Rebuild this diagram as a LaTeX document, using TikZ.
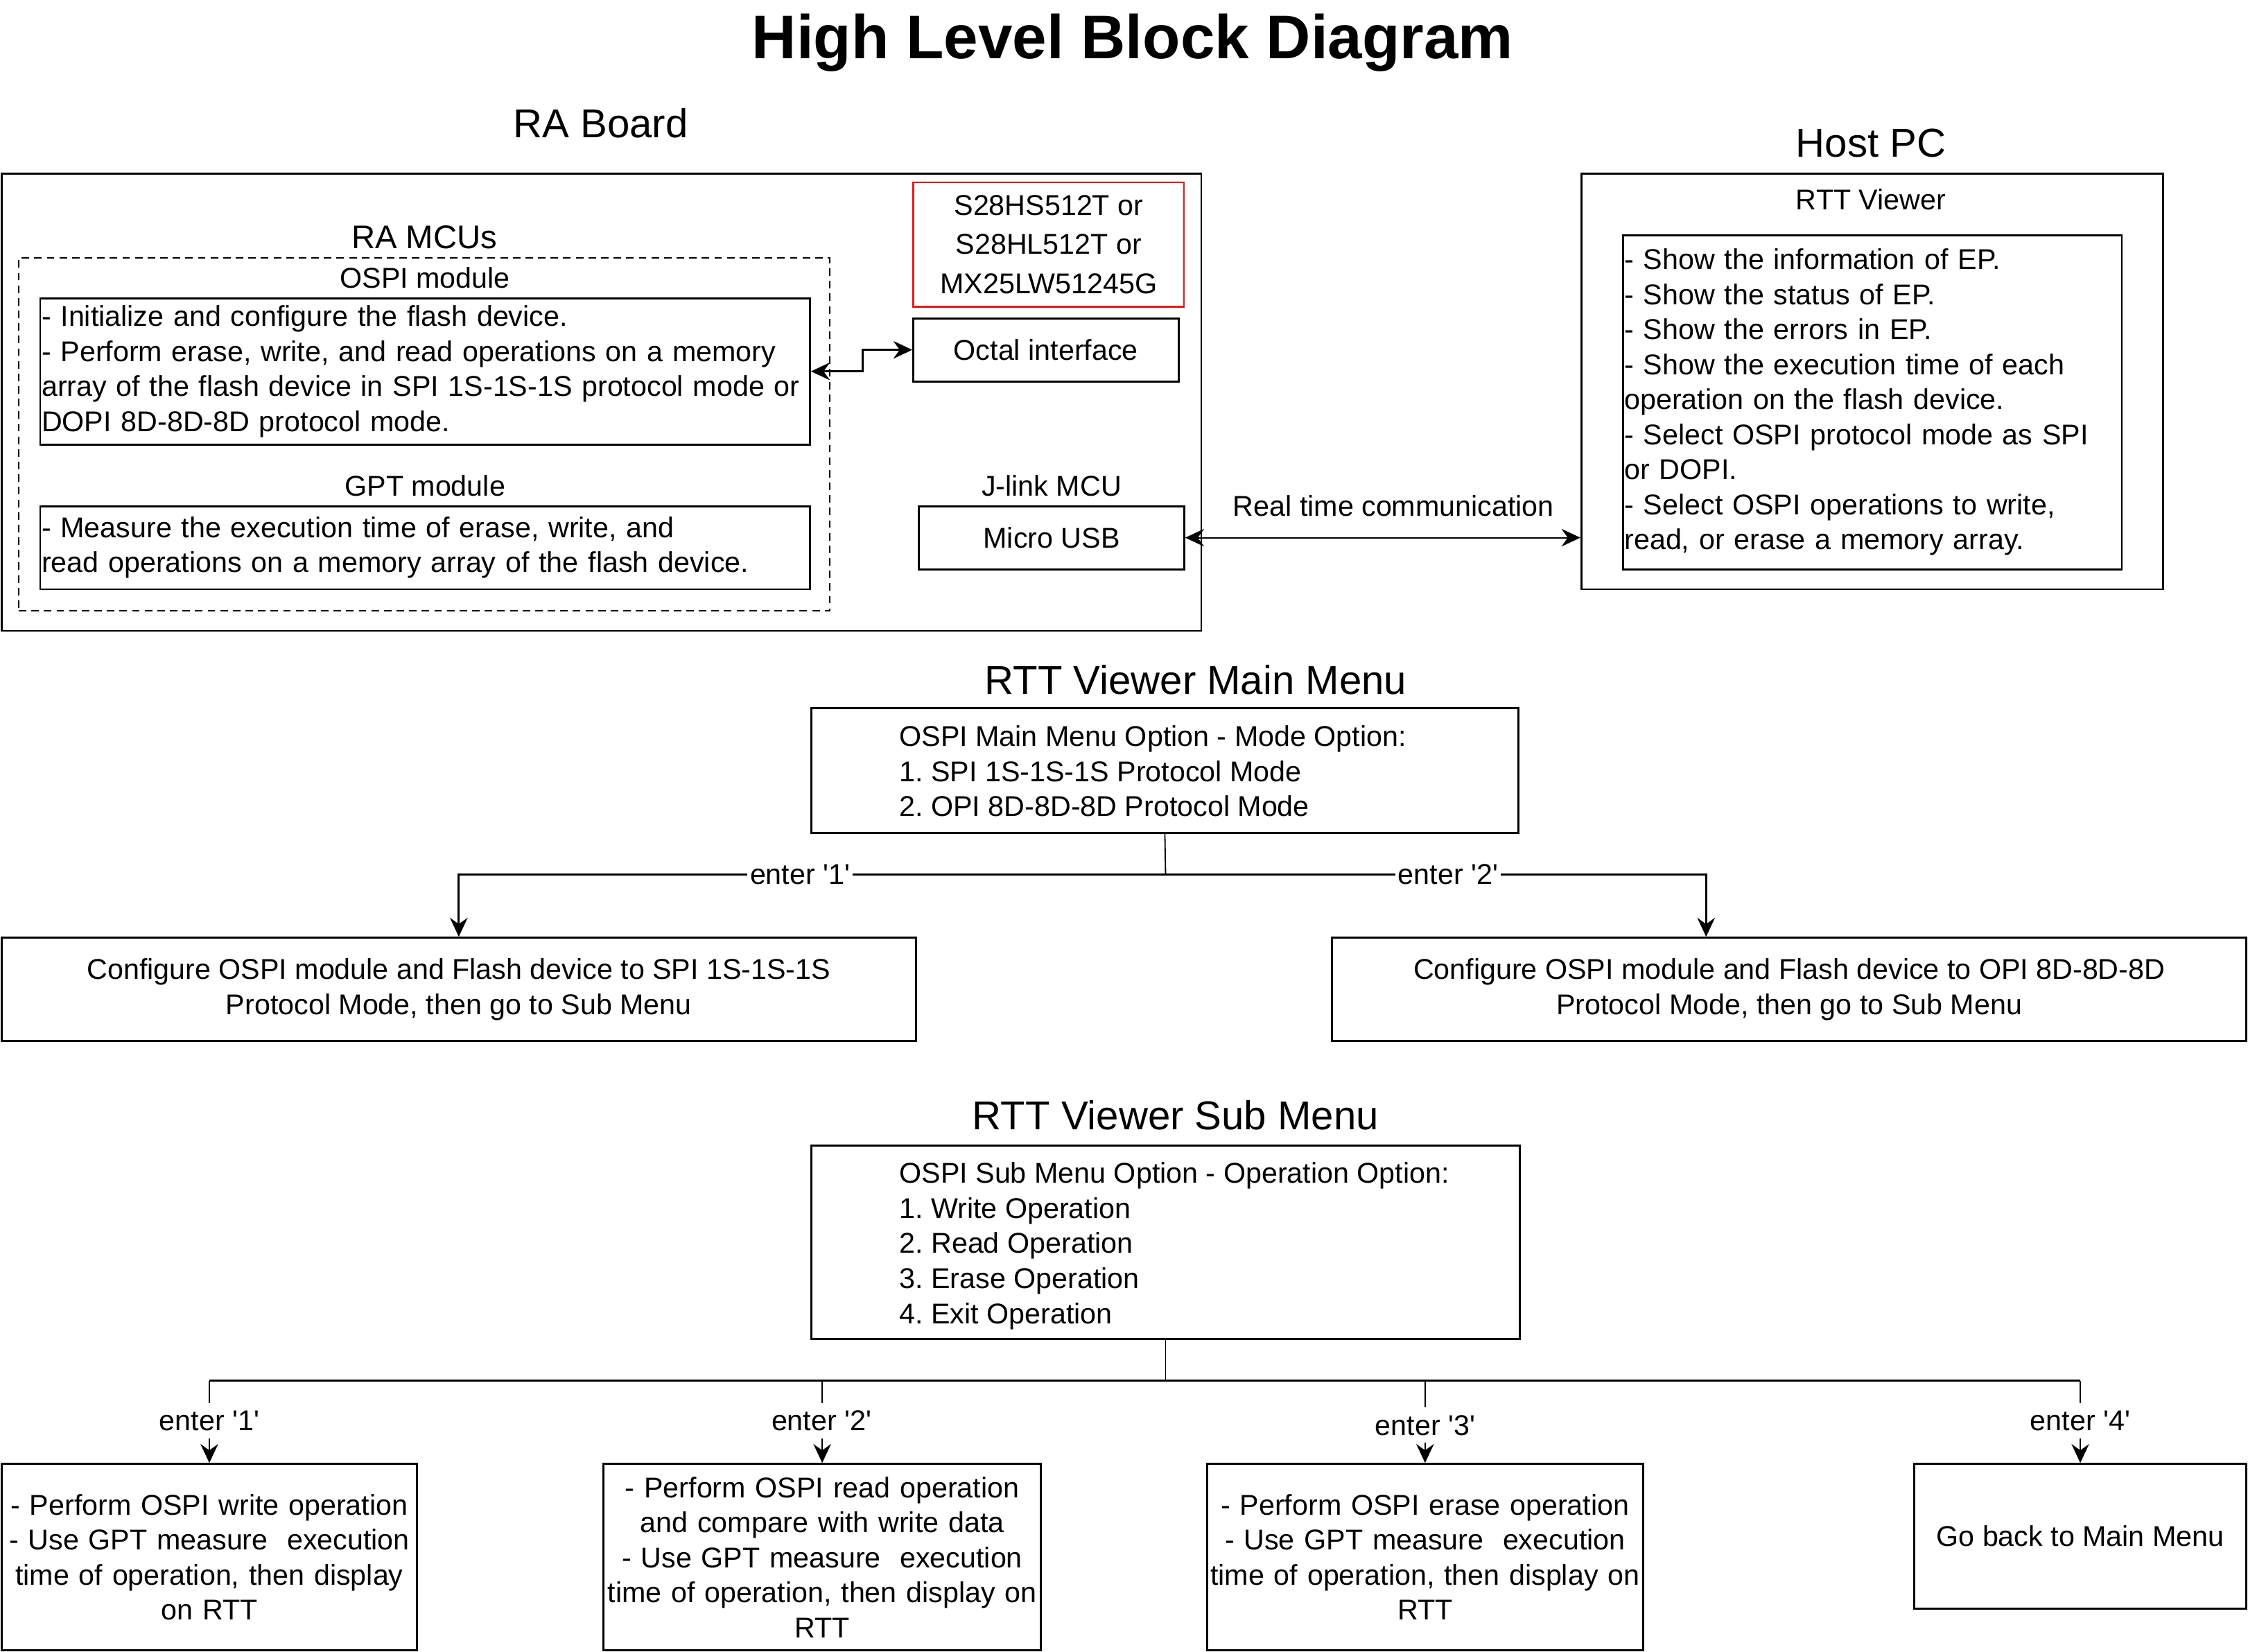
\documentclass[tikz,border=0pt]{standalone}
\usepackage{fontspec}
\setmainfont{Liberation Sans}
\usetikzlibrary{positioning}
\usetikzlibrary{arrows.meta}
\definecolor{chipred}{RGB}{228,24,24}
\newcommand{\bodyfont}{\frenchspacing\fontsize{11.35}{13.9}\selectfont}
\newcommand{\headfont}{\fontsize{16}{19}\selectfont}
\newcommand{\q}{\textquotesingle}
\tikzset{
    every node/.append style={
        font=\bodyfont
    },
    box/.style={
        draw,
        line width=0.8pt,
        inner xsep=0.02cm,
        inner ysep=0.04cm
    },
    group/.style={
        draw,
        line width=0.55pt,
        dash pattern=on 3pt off 2pt
    },
    heading/.style={
        font=\headfont
    },
    choice/.style={
        fill=white,
        inner xsep=1pt,
        inner ysep=3pt
    },
    link/.style={
        line width=0.8pt,
        >={Stealth[length=7.5pt,width=7pt,inset=2.5pt]}
    },
    stem/.style={
        link,
        line width=0.5pt
    }
}
\begin{document}
\begin{tikzpicture}[x=0.02cm, y=-0.02cm]
    \useasboundingbox (0,0) rectangle (1568,1152);
    \node[font=\fontsize{24.5}{29}\selectfont\bfseries] (title) at (790,30) {High Level Block Diagram};

    % RA board side
    \node[heading] (boardlbl) at (419,86) {RA Board};
    \node[box, minimum width=16.74cm, minimum height=6.38cm] (board) at (419.5,280.5) {};
    \node[group, minimum width=11.32cm, minimum height=4.92cm] (mcus) at (296,303) {};
    \node[font=\fontsize{13}{15.6}\selectfont, above=0pt of mcus] (mcuslbl) {RA MCUs};
    \node[box, text width=10.7cm, align=left, minimum height=2.04cm] (ospi) at (296.5,259)
        {- Initialize and configure the flash device.\\
         - Perform erase, write, and read operations on a memory\\
         array of the flash device in SPI 1S-1S-1S protocol mode or\\
         DOPI 8D-8D-8D protocol mode.};
    \node[above=0pt of ospi] (ospilbl) {OSPI module};
    \node[box, text width=10.7cm, align=left, minimum height=1.16cm] (gpt) at (296.5,382)
        {- Measure the execution time of erase, write, and\\
         read operations on a memory array of the flash device.};
    \node[above=0pt of gpt] (gptlbl) {GPT module};
    \node[box, draw=chipred, line width=0.6pt, minimum width=3.78cm, minimum height=1.74cm, align=center,
          font=\fontsize{11.35}{15.6}\selectfont] (flash) at (731.5,170.5)
        {S28HS512T or\\S28HL512T or\\MX25LW51245G};
    \node[box, minimum width=3.7cm, minimum height=0.88cm] (octal) at (729.5,244) {Octal interface};
    \node[box, minimum width=3.7cm, minimum height=0.88cm] (usb) at (733.5,375) {Micro USB};
    \node[above=0pt of usb] (jlinklbl) {J-link MCU};

    % host side
    \node[heading] (hostlbl) at (1305,100) {Host PC};
    \node[box, minimum width=8.12cm, minimum height=5.8cm] (hostpc) at (1306,266) {};
    \node (viewerlbl) at (1305,139) {RTT Viewer};
    \node[box, text width=6.92cm, align=left, minimum height=4.66cm] (viewer) at (1306,280.5)
        {- Show the information of EP.\\
         - Show the status of EP.\\
         - Show the errors in EP.\\
         - Show the execution time of each\\
         operation on the flash device.\\
         - Select OSPI protocol mode as SPI\\
         or DOPI.\\
         - Select OSPI operations to write,\\
         read, or erase a memory array.};

    \draw[link, <->] (ospi.east) -- ++(36,0) |- (octal.west);
    \draw[stem, <->] (usb.east) -- (usb.east -| hostpc.west);
    \node (rtclbl) at (972,353) {Real time communication};

    % main menu
    \node[heading] (mainlbl) at (834,474) {RTT Viewer Main Menu};
    \node[box, minimum width=9.86cm, minimum height=1.74cm] (mainmenu) at (812.5,537.5) {};
    \node[align=left, anchor=west, inner sep=0pt] (maintext) at (627,538)
        {OSPI Main Menu Option - Mode Option:\\
         1. SPI 1S-1S-1S Protocol Mode\\
         2. OPI 8D-8D-8D Protocol Mode};
    \node[box, minimum width=12.76cm, minimum height=1.44cm, align=center] (cfgspi) at (320,690)
        {Configure OSPI module and Flash device to SPI 1S-1S-1S\\Protocol Mode, then go to Sub Menu};
    \node[box, minimum width=12.76cm, minimum height=1.44cm, align=center] (cfgopi) at (1248,690)
        {Configure OSPI module and Flash device to OPI 8D-8D-8D\\Protocol Mode, then go to Sub Menu};
    \coordinate (jmain) at (813,610);
    \draw[stem] (mainmenu.south) -- (jmain);
    \draw[link, ->] (jmain) -| (cfgspi.north);
    \draw[link, ->] (jmain) -| ([xshift=-1.16cm]cfgopi.north);
    \node[choice] (mainch1) at (558,610) {enter \q1\q};
    \node[choice] (mainch2) at (1010,610) {enter \q2\q};

    % sub menu
    \node[heading] (sublbl) at (820,778) {RTT Viewer Sub Menu};
    \node[box, minimum width=9.88cm, minimum height=2.7cm] (submenu) at (813,866.5) {};
    \node[align=left, anchor=west, inner sep=0pt] (subtext) at (627,869)
        {OSPI Sub Menu Option - Operation Option:\\
         1. Write Operation\\
         2. Read Operation\\
         3. Erase Operation\\
         4. Exit Operation};
    \node[box, text width=5.76cm, minimum height=2.6cm, align=center] (opwrite) at (146,1086)
        {- Perform OSPI write operation\\
         - Use GPT measure~ execution\\
         time of operation, then display\\
         on RTT};
    \node[box, text width=6.06cm, minimum height=2.6cm, align=center] (opread) at (573.5,1086)
        {- Perform OSPI read operation\\
         and compare with write data\\
         - Use GPT measure~ execution\\
         time of operation, then display on\\
         RTT};
    \node[box, text width=6.04cm, minimum height=2.6cm, align=center] (operase) at (994,1086)
        {- Perform OSPI erase operation\\
         - Use GPT measure~ execution\\
         time of operation, then display on\\
         RTT};
    \node[box, minimum width=4.64cm, minimum height=2.02cm] (opexit) at (1451,1071.5) {Go back to Main Menu};
    \coordinate (jsub) at (813,963);
    \draw[stem] (submenu.south) -- (jsub);
    \draw[link] (opwrite.north |- jsub) -- (opexit.north |- jsub);
    \foreach \op in {opwrite, opread, operase, opexit}
        \draw[stem, ->] (\op.north |- jsub) -- (\op.north);
    \node[choice] (subch1) at (146,991) {enter \q1\q};
    \node[choice] (subch2) at (573,991) {enter \q2\q};
    \node[choice] (subch3) at (994,994) {enter \q3\q};
    \node[choice] (subch4) at (1451,991) {enter \q4\q};
\end{tikzpicture}
\end{document}
